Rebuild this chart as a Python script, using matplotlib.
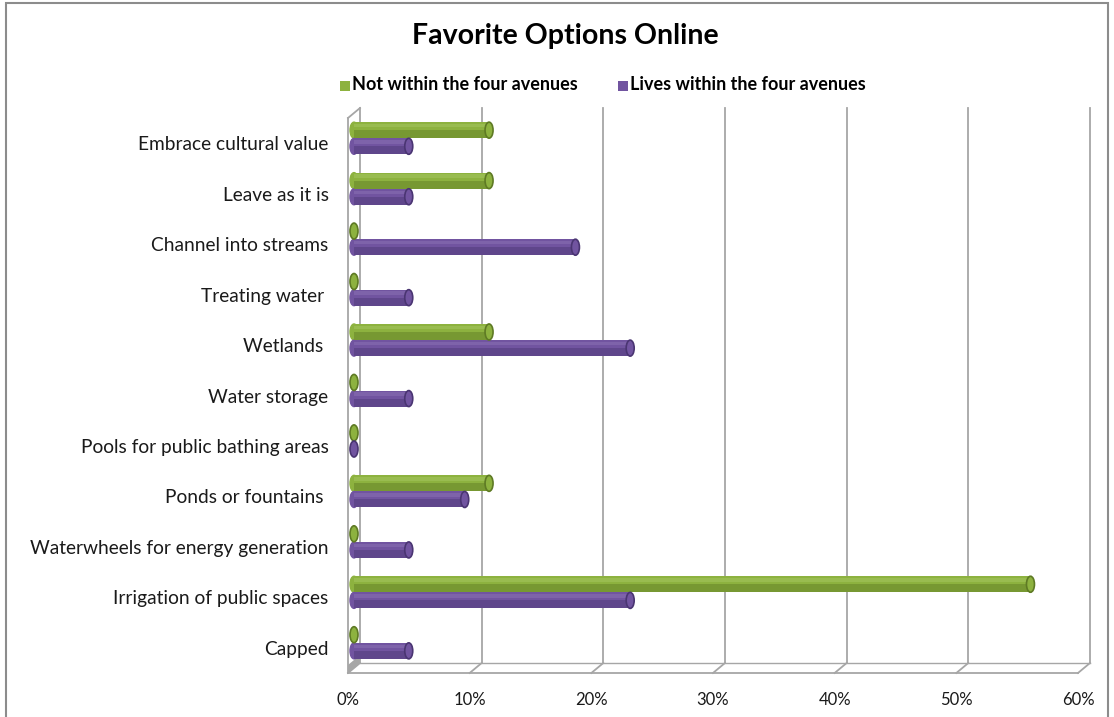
import numpy as np
import matplotlib.pyplot as plt
from matplotlib.patches import Ellipse, Rectangle, Polygon

plt.rcParams['font.family'] = ['Lato', 'DejaVu Sans']

# data
categories = ["Embrace cultural value", "Leave as it is", "Channel into streams",
              "Treating water ", "Wetlands ", "Water storage",
              "Pools for public bathing areas", "Ponds or fountains ",
              "Waterwheels for energy generation", "Irrigation of public spaces",
              "Capped"]
not_within = [11.1, 11.1, 0, 0, 11.1, 0, 0, 11.1, 0, 55.6, 0]
lives_within = [4.5, 4.5, 18.2, 4.5, 22.7, 4.5, 0, 9.1, 4.5, 22.7, 4.5]
xticks = [0, 10, 20, 30, 40, 50, 60]
xtick_labels = ["0%", "10%", "20%", "30%", "40%", "50%", "60%"]

green = "#8db23f"
green_dark = "#5e7a24"
green_light = "#a9c965"
purple = "#7154a0"
purple_dark = "#4a3572"
purple_light = "#8f76b8"

W, H = 1114, 717
fig = plt.figure(figsize=(W / 100, H / 100), dpi=100)

# chart border
fig.patches.append(Rectangle((6 / W, -0.01), 1102 / W, (H - 3) / H + 0.01,
                             transform=fig.transFigure, fill=False,
                             edgecolor="#8c8c8c", linewidth=1.5))

# front plane of the plot area
ax = fig.add_axes([348 / W, 44 / H, 730 / W, 555 / H])
ax.set_xlim(0, 60)
ax.set_ylim(len(categories) - 0.5, -0.5)
for s in ax.spines.values():
    s.set_visible(False)

# 3D depth offsets converted to data units
px_x = 60 / 730
px_y = len(categories) / 555
DX, DY = 12 * px_x, -10 * px_y
bot, top = len(categories) - 0.5, -0.5

# back wall grid lines + floor diagonals
grid_c = "#a6a6a6"
for v in xticks:
    ax.plot([v + DX, v + DX], [bot + DY, top + DY], color=grid_c, lw=1.3, clip_on=False, zorder=0)
    ax.plot([v, v + DX], [bot, bot + DY], color=grid_c, lw=1.3, clip_on=False, zorder=0)
ax.plot([0, 60], [bot, bot], color=grid_c, lw=1.3, clip_on=False, zorder=0)
ax.plot([DX, 60 + DX], [bot + DY, bot + DY], color=grid_c, lw=1.0, clip_on=False, zorder=0)
# left wall
ax.plot([0, 0], [bot, top], color=grid_c, lw=1.3, clip_on=False, zorder=0)
ax.plot([0, DX], [top, top + DY], color=grid_c, lw=1.3, clip_on=False, zorder=0)
ax.add_patch(Polygon([[0, bot], [DX, bot + DY], [DX, bot + DY - 8 * px_y], [0, bot - 8 * px_y]],
                     closed=True, facecolor="#a6a6a6", edgecolor="none", clip_on=False, zorder=0))

# cylinder bars
y = np.arange(len(categories))
hb = 16 * px_y
ox, oy = DX / 2, DY / 2
cap_w = 8 * px_x


def cylinder(vals, yc, base, dark, light):
    for v, c in zip(vals, yc):
        c = c + oy
        if v > 0:
            ax.add_patch(Ellipse((ox, c), cap_w, hb, color=base, zorder=2))
            ax.barh(c, v, left=ox, height=hb, color=base, edgecolor="none", zorder=3)
            ax.barh(c + hb * 0.25, v, left=ox, height=hb * 0.5, color=dark, alpha=0.45,
                    edgecolor="none", zorder=3)
            ax.barh(c - hb * 0.28, v, left=ox, height=hb * 0.22, color=light, alpha=0.45,
                    edgecolor="none", zorder=3)
        ax.add_patch(Ellipse((ox + v, c), cap_w, hb, facecolor=base, edgecolor=dark,
                             lw=1.2, zorder=4))


cylinder(not_within, y - 0.16, green, green_dark, green_light)
cylinder(lives_within, y + 0.16, purple, purple_dark, purple_light)

ax.set_yticks(y)
ax.set_yticklabels(categories, fontsize=13.8, color="#1a1a1a")
ax.set_xticks(xticks)
ax.set_xticklabels(xtick_labels, fontsize=12, color="#1a1a1a")
ax.tick_params(axis="y", length=0, pad=14)
ax.tick_params(axis="x", length=0, pad=14)

# title and legend
fig.text(565 / W, 1 - 36 / H, "Favorite Options Online", ha="center", va="center",
         fontsize=20.5, fontweight="bold", color="black")
fig.patches.append(Rectangle((340 / W, 1 - 91 / H), 10 / W, 10 / H, transform=fig.transFigure,
                             facecolor=green, edgecolor="none"))
fig.text(352 / W, 1 - 85 / H, "Not within the four avenues", ha="left", va="center",
         fontsize=13, fontweight="bold", color="black")
fig.patches.append(Rectangle((618 / W, 1 - 91 / H), 10 / W, 10 / H, transform=fig.transFigure,
                             facecolor=purple, edgecolor="none"))
fig.text(630 / W, 1 - 85 / H, "Lives within the four avenues", ha="left", va="center",
         fontsize=13, fontweight="bold", color="black")

fig.savefig("out.png", dpi=100)
